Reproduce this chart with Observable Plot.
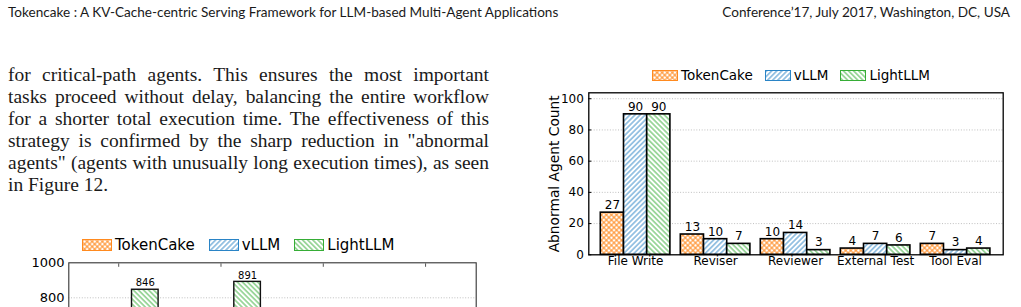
<!DOCTYPE html>
<html><head><meta charset="utf-8">
<script src="https://cdn.jsdelivr.net/npm/d3@7"></script>
<script src="https://cdn.jsdelivr.net/npm/@observablehq/plot@0.6"></script>
<style>
html,body{margin:0;padding:0;background:#fff;}
body{width:1021px;height:307px;overflow:hidden;position:relative;}
.hdr{position:absolute;top:4px;font-family:Lato,"Open Sans",sans-serif;font-size:13px;line-height:17px;color:#1a1a1a;white-space:nowrap}
.bl{position:absolute;left:8px;width:481px;font-family:"Liberation Serif","DejaVu Serif",serif;font-size:17px;line-height:22px;color:#1a1a1a;text-align:justify;text-align-last:justify}
.bl.last{text-align-last:left}
.measure{position:absolute;visibility:hidden;white-space:nowrap;font-family:"Liberation Serif","DejaVu Serif",serif;font-size:17px}
.legend{position:absolute;display:flex;align-items:center;font-family:"DejaVu Sans",sans-serif;color:#000;white-space:nowrap}
.legend .item{display:flex;align-items:center}
.chart{position:absolute}
</style></head><body>
<svg width="0" height="0" style="position:absolute">
<defs>
 <pattern id="hatch-tc" patternUnits="userSpaceOnUse" width="3.6" height="3.6" patternTransform="rotate(45)">
   <rect width="3.6" height="3.6" fill="#fff"/>
   <line x1="1.8" y1="0" x2="1.8" y2="3.6" stroke="#ff8a1f" stroke-width="1"/>
   <line x1="0" y1="1.8" x2="3.6" y2="1.8" stroke="#ff8a1f" stroke-width="1"/>
 </pattern>
 <pattern id="hatch-vl" patternUnits="userSpaceOnUse" width="3.6" height="3.6" patternTransform="rotate(45)">
   <rect width="3.6" height="3.6" fill="#fff"/>
   <line x1="1.8" y1="0" x2="1.8" y2="3.6" stroke="#2a84c6" stroke-width="0.9"/>
 </pattern>
 <pattern id="hatch-ll" patternUnits="userSpaceOnUse" width="3.6" height="3.6" patternTransform="rotate(-45)">
   <rect width="3.6" height="3.6" fill="#fff"/>
   <line x1="1.8" y1="0" x2="1.8" y2="3.6" stroke="#36ad36" stroke-width="0.9"/>
 </pattern>
</defs></svg>

<div class="hdr" id="hdrL" style="left:8px"></div>
<div class="hdr" id="hdrR" style="right:11px"></div>

<div id="body"></div>
<div id="legendMain" class="legend"></div>
<div id="chartMain" class="chart" style="left:530px;top:85px"></div>
<div id="legendFig13" class="legend"></div>
<div id="chartFig13" class="chart" style="left:0px;top:256px"></div>

<script>
// ---------- text ----------
const headerLeft = "Tokencake : A KV-Cache-centric Serving Framework for LLM-based Multi-Agent Applications";
const headerRight = "Conference’17, July 2017, Washington, DC, USA";
const bodyLines = [
  "for critical-path agents. This ensures the most important",
  "tasks proceed without delay, balancing the entire workflow",
  "for a shorter total execution time. The effectiveness of this",
  "strategy is confirmed by the sharp reduction in \"abnormal",
  "agents\" (agents with unusually long execution times), as seen",
  "in Figure 12."
];

// ---------- main chart data (Figure 12) ----------
const categories = ["File Write", "Reviser", "Reviewer", "External Test", "Tool Eval"];
const seriesNames = ["TokenCake", "vLLM", "LightLLM"];
const tokenCakeCounts = [27, 13, 10, 4, 7];
const vllmCounts = [90, 10, 14, 7, 3];
const lightllmCounts = [90, 7, 3, 6, 4];
const yTicks = [0, 20, 40, 60, 80, 100];
const yLabel = "Abnormal Agent Count";

// ---------- lower-left chart (cut off by the page edge) ----------
const fig13Groups = ["1", "2", "3", "4"];
const fig13TokenCake = [null, null, null, null];
const fig13VLLM = [null, null, null, null];
const fig13LightLLM = [846, 891, null, null];
const fig13YTicks = [0, 200, 400, 600, 800, 1000];

const patternIds = ["hatch-tc", "hatch-vl", "hatch-ll"];
const edgeColors = ["#ff8a1f", "#2a84c6", "#36ad36"];

// headers: same font size, right one fitted to its measured width
const hL = document.getElementById("hdrL"), hR = document.getElementById("hdrR");
hL.textContent = headerLeft; hR.textContent = headerRight;
{
  const w = hR.getBoundingClientRect().width;
  const fs = 13 * 288 / w;
  hR.style.fontSize = fs + "px";
  hL.style.fontSize = fs + "px";
}

// body text: one common font size so the widest full line nearly fills the column
const meas = document.createElement("span");
meas.className = "measure";
document.body.appendChild(meas);
let maxW = 0;
bodyLines.slice(0, -1).forEach(t => { meas.textContent = t; maxW = Math.max(maxW, meas.getBoundingClientRect().width); });
meas.remove();
const bodyFs = 17 * 478 / maxW;
const bodyEl = document.getElementById("body");
bodyLines.forEach((t, k) => {
  const d = document.createElement("div");
  d.className = "bl" + (k === bodyLines.length - 1 ? " last" : "");
  d.style.fontSize = bodyFs + "px";
  d.style.top = (64 + k * 22) + "px";
  d.textContent = t;
  bodyEl.appendChild(d);
});

function makeLegend(id, left, top, o) {
  const el = document.getElementById(id);
  el.style.left = left + "px";
  el.style.top = top + "px";
  el.style.fontSize = o.fontSize + "px";
  el.style.gap = o.itemGap + "px";
  seriesNames.forEach((s, j) => {
    const it = document.createElement("div");
    it.className = "item";
    it.innerHTML = `<svg width="${o.w}" height="${o.h}" style="display:block"><rect x="0.5" y="0.5" width="${o.w-1}" height="${o.h-1}" fill="url(#${patternIds[j]})" stroke="${edgeColors[j]}" stroke-width="1"/></svg><span style="margin-left:${o.textGap}px">${s}</span>`;
    el.appendChild(it);
  });
}
makeLegend("legendMain", 652, 67, {fontSize: 13.5, w: 26, h: 11, textGap: 3, itemGap: 12});
makeLegend("legendFig13", 82, 236, {fontSize: 15, w: 30, h: 12, textGap: 3, itemGap: 14});

// ---------- main chart ----------
const BW = 0.29;
const allVals = [tokenCakeCounts, vllmCounts, lightllmCounts];
const rows = categories.flatMap((c, i) => seriesNames.map((s, j) => ({category: c, series: s, i, j, value: allVals[j][i]})));

const mainPlot = Plot.plot({
  width: 480, height: 190,
  marginLeft: 58.3, marginRight: 7.3, marginTop: 7.3, marginBottom: 20.7,
  x: {domain: [-0.585, 4.595]},
  y: {domain: [0, 103.8]},
  style: {fontFamily: "DejaVu Sans", fontSize: "12px", color: "#000", background: "transparent", overflow: "visible"},
  marks: [
    Plot.gridY(yTicks.filter(d => d > 0), {stroke: "#b0b0b0", strokeOpacity: 1, strokeWidth: 0.8, strokeDasharray: "1,1.7"}),
    ...seriesNames.map((s, j) => Plot.rectY(rows.filter(d => d.j === j), {
      x1: d => d.i + (d.j - 1.5) * BW, x2: d => d.i + (d.j - 0.5) * BW,
      y1: 0, y2: "value", fill: `url(#${patternIds[j]})`, stroke: "#000", strokeWidth: 1.6
    })),
    Plot.text(rows, {x: d => d.i + (d.j - 1) * BW, y: "value", text: d => String(d.value), dy: -7.5, fontSize: 12, fill: "#000"}),
    Plot.frame({stroke: "#000", strokeWidth: 1.3}),
    Plot.axisY({ticks: yTicks, tickSize: -3, tickFormat: () => "", label: null}),
    Plot.axisY({ticks: yTicks, tickSize: 0, tickPadding: 5, label: null, fontSize: 12}),
    Plot.axisX({ticks: categories.map((c, i) => i), tickFormat: i => categories[i], tickSize: 0, tickPadding: 1.5, label: null, fontSize: 12}),
    Plot.text([yLabel], {frameAnchor: "left", textAnchor: "middle", rotate: -90, dx: -34.3, text: d => d, fontSize: 13.8, fill: "#000"})
  ]
});
document.getElementById("chartMain").appendChild(mainPlot);

// ---------- lower-left chart (only its top part is on the page) ----------
const BW2 = 0.26;
const fig13Vals = [fig13TokenCake, fig13VLLM, fig13LightLLM];
const rows13 = fig13Groups.flatMap((c, i) => seriesNames.map((s, j) => ({group: c, series: s, i, j, value: fig13Vals[j][i]}))).filter(d => d.value != null);

const fig13Plot = Plot.plot({
  width: 490, height: 215,
  marginLeft: 68.3, marginRight: 14.3, marginTop: 6.3, marginBottom: 33.7,
  x: {domain: [-0.488, 3.495]},
  y: {domain: [0, 1000]},
  style: {fontFamily: "DejaVu Sans", fontSize: "13px", color: "#000", background: "transparent", overflow: "visible"},
  marks: [
    Plot.gridY(fig13YTicks.filter(d => d > 0 && d < 1000), {stroke: "#b0b0b0", strokeOpacity: 1, strokeWidth: 0.8, strokeDasharray: "1,1.7"}),
    ...seriesNames.map((s, j) => Plot.rectY(rows13.filter(d => d.j === j), {
      x1: d => d.i + (d.j - 1.5) * BW2, x2: d => d.i + (d.j - 0.5) * BW2,
      y1: 0, y2: "value", fill: `url(#${patternIds[j]})`, stroke: "#111", strokeWidth: 1.4
    })),
    Plot.text(rows13, {x: d => d.i + (d.j - 1) * BW2, y: "value", text: d => String(d.value), dy: -6.5, fontSize: 10, fill: "#000"}),
    Plot.frame({stroke: "#333", strokeWidth: 1.1}),
    Plot.axisX({anchor: "top", ticks: fig13Groups.map((g, i) => i), tickSize: -3.5, tickFormat: () => "", label: null, stroke: "#555"}),
    // only the tick labels that fall on the page are written
    Plot.axisY({ticks: fig13YTicks.filter(d => d >= 800), tickSize: 0, tickPadding: 4.3, tickFormat: d => String(d), label: null, fontSize: 13})
  ]
});
document.getElementById("chartFig13").appendChild(fig13Plot);
</script>
</body></html>
